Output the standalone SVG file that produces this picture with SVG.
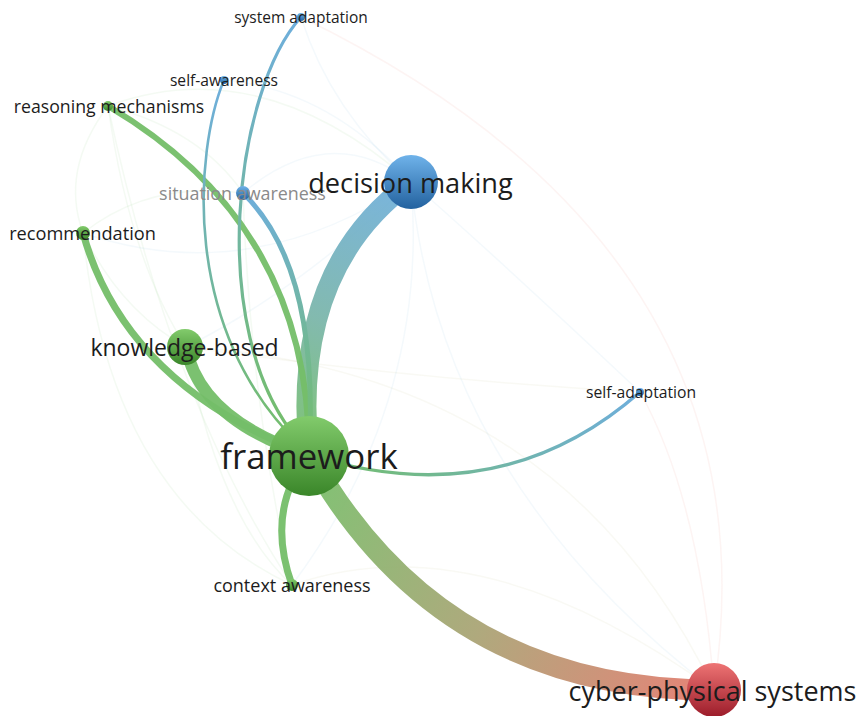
<svg xmlns="http://www.w3.org/2000/svg" width="858" height="716" viewBox="0 0 858 716">
<defs>
<linearGradient id="gN" x1="0" y1="0" x2="0" y2="1"><stop offset="0" stop-color="#82cb6c"/><stop offset="1" stop-color="#3a8629"/></linearGradient>
<linearGradient id="bN" x1="0" y1="0" x2="0" y2="1"><stop offset="0" stop-color="#6fb3ea"/><stop offset="1" stop-color="#23629f"/></linearGradient>
<linearGradient id="rN" x1="0" y1="0" x2="0" y2="1"><stop offset="0" stop-color="#ee7474"/><stop offset="1" stop-color="#9c1c2a"/></linearGradient>
<linearGradient id="eFD" gradientUnits="userSpaceOnUse" x1="309" y1="455" x2="411" y2="182"><stop offset="0" stop-color="#74be68"/><stop offset="0.45" stop-color="#78b4a8"/><stop offset="1" stop-color="#6eaedc"/></linearGradient>
<linearGradient id="eFC" gradientUnits="userSpaceOnUse" x1="309" y1="455" x2="714" y2="690"><stop offset="0" stop-color="#74be68"/><stop offset="0.5" stop-color="#a8a272"/><stop offset="1" stop-color="#e4786c"/></linearGradient>
<linearGradient id="eFS" gradientUnits="userSpaceOnUse" x1="309" y1="455" x2="243" y2="193"><stop offset="0" stop-color="#74be68"/><stop offset="1" stop-color="#6eaedc"/></linearGradient>
<linearGradient id="eFW" gradientUnits="userSpaceOnUse" x1="300" y1="445" x2="224" y2="80"><stop offset="0" stop-color="#74be68"/><stop offset="1" stop-color="#6eaedc"/></linearGradient>
<linearGradient id="eFY" gradientUnits="userSpaceOnUse" x1="298" y1="440" x2="301" y2="17"><stop offset="0" stop-color="#74be68"/><stop offset="1" stop-color="#6eaedc"/></linearGradient>
<linearGradient id="eFA" gradientUnits="userSpaceOnUse" x1="309" y1="455" x2="640" y2="392"><stop offset="0" stop-color="#74be68"/><stop offset="1" stop-color="#6eaedc"/></linearGradient>
</defs>
<style>
.e{fill:none;stroke-linecap:round}
.g{stroke:#74be68;stroke-opacity:0.95}
.f{stroke-width:1.5;stroke-opacity:0.08}
.fg{stroke:#74be68}
.fb{stroke:#6eaedc}
.fr{stroke:#e4786c}
.fy{stroke:#b0b070}
text{font-family:"Open Sans","Noto Sans","DejaVu Sans",sans-serif;text-anchor:middle;dominant-baseline:central;fill:#1c1c1c}
</style>
<g id="connectors">
<path class="e f fg" d="M108 106 Q 60 170 83 233"/>
<path class="e f fg" d="M108 106 Q 260 50 411 182"/>
<path class="e f fb" d="M83 233 Q 250 290 411 182"/>
<path class="e f fb" d="M243 193 Q 330 120 411 182"/>
<path class="e f fb" d="M224 80 Q 330 90 411 182"/>
<path class="e f fb" d="M301 17 Q 330 110 411 182"/>
<path class="e f fb" d="M411 182 Q 500 260 640 392"/>
<path class="e f fb" d="M411 182 Q 440 480 714 690"/>
<path class="e f fr" d="M301 17 Q 780 250 714 690"/>
<path class="e f fr" d="M640 392 Q 700 500 714 690"/>
<path class="e f fy" d="M186 347 Q 560 370 714 690"/>
<path class="e f fy" d="M292 585 Q 480 520 714 690"/>
<path class="e f fg" d="M83 233 Q 110 500 292 585"/>
<path class="e f fg" d="M186 347 Q 220 520 292 585"/>
<path class="e f fg" d="M108 106 Q 170 400 292 585"/>
<path class="e f fg" d="M108 106 Q 130 260 186 347"/>
<path class="e f fg" d="M83 233 Q 120 310 186 347"/>
<path class="e f fg" d="M83 233 Q 150 180 243 193"/>
<path class="e f fg" d="M108 106 Q 200 130 243 193"/>
<path class="e f fb" d="M186 347 Q 300 290 411 182"/>
<path class="e f fb" d="M292 585 Q 430 400 411 182"/>
<path class="e f fy" d="M186 347 Q 420 380 640 392"/>
<path class="e f fg" d="M292 585 Q 250 400 243 193"/>
<path class="e" stroke="url(#eFD)" stroke-opacity="0.92" stroke-width="20" d="M309 455 Q 290 270 411 182"/>
<path class="e" stroke="url(#eFC)" stroke-opacity="0.92" stroke-width="21" d="M309 455 Q 440 690 714 690"/>
<path class="e g" stroke-width="12" d="M186 347 Q 200 420 309 455"/>
<path class="e g" stroke-width="7" d="M83 233 Q 125 385 309 455"/>
<path class="e g" stroke-width="6" d="M108 106 Q 310 225 309 455"/>
<path class="e" stroke="url(#eFS)" stroke-width="5" d="M243 193 Q 320 268 309 455"/>
<path class="e" stroke="url(#eFW)" stroke-width="2.6" d="M224 80 C 195 150, 180 330, 300 445"/>
<path class="e" stroke="url(#eFY)" stroke-width="3.2" d="M301 17 C 235 90, 205 330, 298 440"/>
<path class="e" stroke="url(#eFA)" stroke-width="3.4" d="M309 455 Q 500 515 640 392"/>
<path class="e g" stroke-width="7" d="M309 455 Q 265 510 292 585"/>
</g>
<g id="n-system-adaptation"><circle cx="301" cy="17" r="4" fill="url(#bN)"/><text x="301" y="17" font-size="15.5">system adaptation</text></g>
<g id="n-self-awareness"><circle cx="224" cy="80" r="4" fill="url(#bN)"/><text x="224" y="80" font-size="15.6">self-awareness</text></g>
<g id="n-reasoning-mechanisms"><circle cx="108" cy="106" r="5" fill="url(#gN)"/><text x="109" y="106" font-size="17.7">reasoning mechanisms</text></g>
<g id="n-situation-awareness"><circle cx="243" cy="193" r="7" fill="url(#bN)"/><text x="242.5" y="193" font-size="17.9" style="fill:#8a8a8a">situation awareness</text></g>
<g id="n-recommendation"><circle cx="83" cy="233" r="7" fill="url(#gN)"/><text x="82.5" y="233" font-size="18.2">recommendation</text></g>
<g id="n-decision-making"><circle cx="411" cy="182" r="27" fill="url(#bN)"/><text x="410.5" y="182" font-size="27.2">decision making</text></g>
<g id="n-knowledge-based"><circle cx="185" cy="347" r="18" fill="url(#gN)"/><text x="184.5" y="347" font-size="23">knowledge-based</text></g>
<g id="n-self-adaptation"><circle cx="640" cy="392" r="4" fill="url(#bN)"/><text x="641" y="392" font-size="15.7">self-adaptation</text></g>
<g id="n-framework"><circle cx="309" cy="456" r="40" fill="url(#gN)"/><text x="309" y="455" font-size="34.8">framework</text></g>
<g id="n-context-awareness"><circle cx="292" cy="585" r="6" fill="url(#gN)"/><text x="292" y="585" font-size="18">context awareness</text></g>
<g id="n-cyber-physical-systems"><circle cx="714" cy="690" r="27" fill="url(#rN)"/><text x="712.5" y="690" font-size="27">cyber-physical systems</text></g>
</svg>
